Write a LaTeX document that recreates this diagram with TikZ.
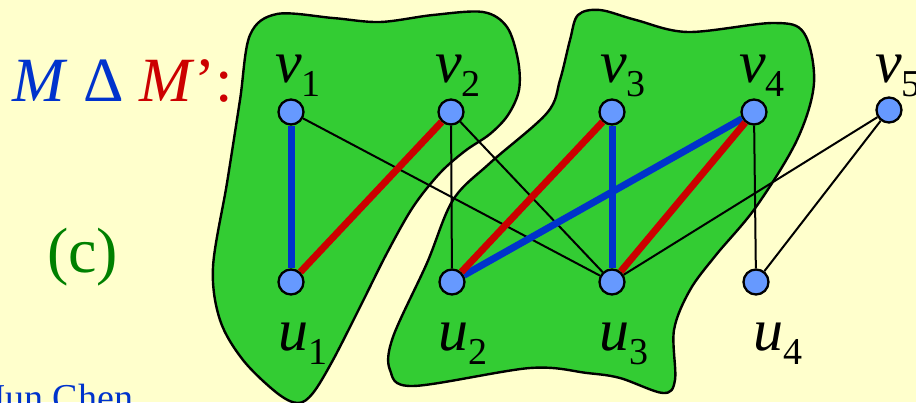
\documentclass[tikz,border=0pt]{standalone}
\usepackage{fontspec}
\setmainfont{Liberation Serif}
\definecolor{bgyellow}{HTML}{FFFFCC}
\definecolor{blobgreen}{HTML}{33CC33}
\definecolor{nodeblue}{HTML}{6699FF}
\definecolor{edgeblue}{HTML}{0033CC}
\definecolor{edgered}{HTML}{CC0000}
\definecolor{textgreen}{HTML}{008000}
\newcommand{\glab}[2]{\fontsize{60}{60}\selectfont\itshape #1\upshape\raisebox{-14pt}{\fontsize{38}{38}\selectfont #2}}
\begin{document}
\begin{tikzpicture}[x=1pt,y=-1pt,
  vert/.style={circle,draw=black,line width=2.3pt,fill=nodeblue,minimum size=25pt,inner sep=0pt},
  lab/.style={anchor=base west,inner sep=0pt,text=black},
  blob/.style={draw=black,line width=2.4pt,fill=blobgreen},
  plain/.style={draw=black,line width=2pt},
  medge/.style={draw=edgeblue,line width=7pt},
  pedge/.style={draw=edgered,line width=7pt}]
\useasboundingbox (0,0) rectangle (916,402);
\fill[bgyellow] (0,0) rectangle (916,402);
% blobs
\path[blob] plot[smooth cycle,tension=0.55] coordinates {
 (250,35) (277,14) (333,18) (380,22) (433,15) (483,12) (507,27) (518,60)
 (519,90) (508,115) (490,134) (465,151) (440,173) (413,207) (387,253)
 (360,307) (333,360) (313,393) (298,403) (277,393) (243,360) (220,320)
 (213,267) (227,183) (240,100)};
\path[blob] plot[smooth cycle,tension=0.55] coordinates {
 (570,40) (578,15) (600,10) (636,20) (688,32) (773,23) (804,33) (814,83)
 (797,140) (756,207) (716,255) (690,290) (674,330) (675,380) (663,393)
 (620,378) (587,373) (530,368) (413,386) (390,370) (393,337) (427,263)
 (453,200) (490,163) (547,113) (560,80)};
% vertices
\node[vert] (v1) at (291,112) {};
\node[vert] (v2) at (451,112) {};
\node[vert] (v3) at (612,112) {};
\node[vert] (v4) at (754,112) {};
\node[vert] (v5) at (889,110) {};
\node[vert] (u1) at (291,282) {};
\node[vert] (u2) at (452,282) {};
\node[vert] (u3) at (612,282) {};
\node[vert] (u4) at (756,282) {};
% edges
\draw[plain] (v1) -- (u3);
\draw[plain] (v2) -- (u2);
\draw[plain] (v2) -- (u3);
\draw[plain] (v5) -- (u3);
\draw[plain] (v5) -- (u4);
\draw[plain] (v4) -- (u4);
\draw[medge] (v1) -- (u1);
\draw[medge] (u2) -- (v4);
\draw[medge] (v3) -- (u3);
\draw[pedge] (u1) -- (v2);
\draw[pedge] (u2) -- (v3);
\draw[pedge] (u3) -- (v4);
% labels
\node[lab] (lv1) at (275,82) {\glab{v}{1}};
\node[lab] (lv2) at (435,82) {\glab{v}{2}};
\node[lab] (lv3) at (600,82) {\glab{v}{3}};
\node[lab] (lv4) at (739,82) {\glab{v}{4}};
\node[lab] (lv5) at (875,82) {\glab{v}{5}};
\node[lab] (lu1) at (278,350) {\glab{u}{1}};
\node[lab] (lu2) at (438,350) {\glab{u}{2}};
\node[lab] (lu3) at (599,350) {\glab{u}{3}};
\node[lab] (lu4) at (753,350) {\glab{u}{4}};
% texts
\node[anchor=base west,inner sep=0pt] (title) at (12,101)
 {\fontsize{63}{63}\selectfont\textcolor{edgeblue}{\textit{M} Δ} \textcolor{edgered}{\textit{M}’:}};
\node[anchor=base west,inner sep=0pt,text=textgreen] (case) at (47,272)
 {\fontsize{64}{64}\selectfont (c)};
\node[anchor=base west,inner sep=0pt,text=edgeblue] (author) at (-9.5,410)
 {\fontsize{38}{38}\selectfont Jun Chen};
\end{tikzpicture}
\end{document}
